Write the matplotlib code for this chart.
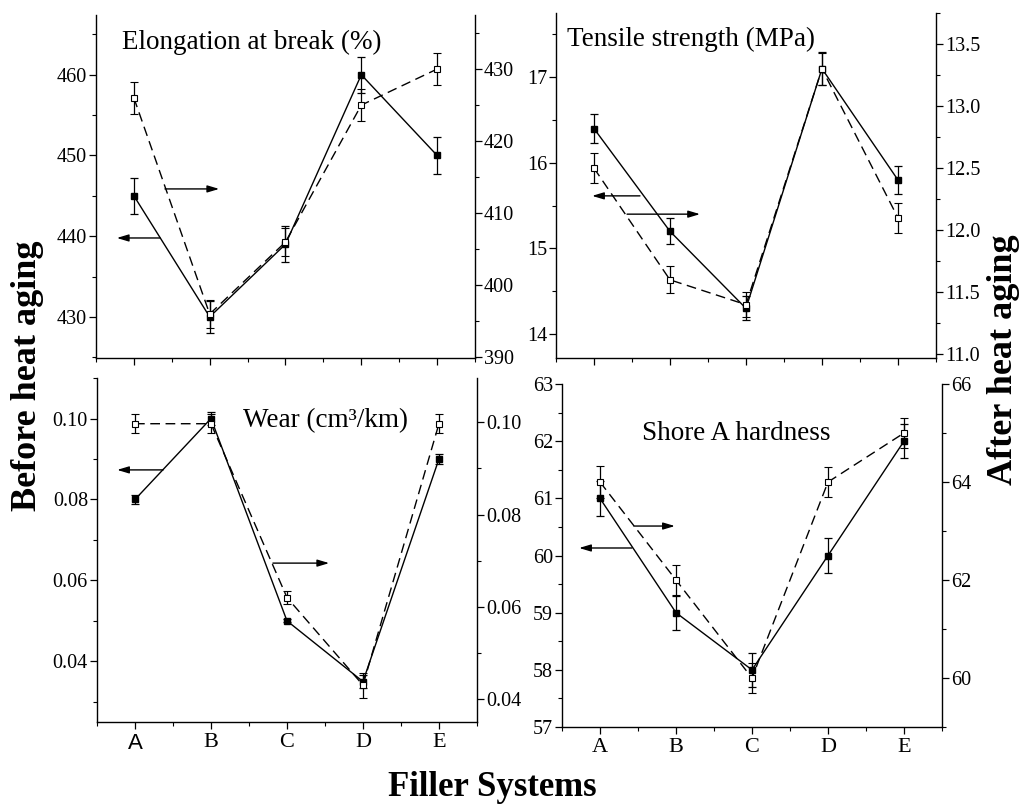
import matplotlib
matplotlib.use("Agg")
import matplotlib.pyplot as plt
from matplotlib.ticker import MultipleLocator, FormatStrFormatter

plt.rcParams["font.family"] = ["Liberation Serif", "DejaVu Serif"]

fillers = ["A", "B", "C", "D", "E"]

elong_before = [445, 430, 439, 460, 450]
elong_before_err = [2.2, 2.0, 2.2, 2.2, 2.3]
elong_after = [426, 396, 406, 425, 430]
elong_after_err = [2.2, 2.0, 2.0, 2.2, 2.2]

tensile_before = [16.4, 15.2, 14.3, 17.1, 15.8]
tensile_before_err = [0.17, 0.15, 0.14, 0.19, 0.16]
tensile_after = [12.5, 11.6, 11.4, 13.3, 12.1]
tensile_after_err = [0.12, 0.11, 0.10, 0.13, 0.12]

wear_before = [0.080, 0.100, 0.050, 0.035, 0.090]
wear_before_err = [0.0012, 0.0015, 0.0004, 0.0015, 0.0012]
wear_after = [0.0997, 0.0997, 0.062, 0.043, 0.0997]
wear_after_err = [0.002, 0.002, 0.0015, 0.0027, 0.002]

hard_before = [61, 59, 58, 60, 62]
hard_before_err = [0.3, 0.3, 0.3, 0.3, 0.3]
hard_after = [64, 62, 60, 64, 65]
hard_after_err = [0.32, 0.3, 0.3, 0.3, 0.3]

TICK_FS = 14.5


def style_axis(ax, side):
    for s in ["top", "left", "right", "bottom"]:
        ax.spines[s].set_visible(False)
    ax.spines[side].set_visible(True)
    ax.spines[side].set_linewidth(1.0)
    ax.tick_params(axis="y", which="major", direction="out", length=5, width=0.9,
                   labelsize=TICK_FS, pad=1.5)
    ax.tick_params(axis="y", which="minor", direction="out", length=3, width=0.8)


def draw_panel(rect, before, before_err, after, after_err, lims, ticks, fmts,
               title, title_pos, arrows, show_x=False, sans_first=False):
    ax = fig.add_axes(rect)
    x = list(range(1, len(fillers) + 1))
    ax.errorbar(x, before, yerr=before_err, color="k", lw=1.0, marker="s", ms=5,
                mfc="k", mec="k", capsize=3, elinewidth=0.9, capthick=0.9, zorder=3)
    ax.set_xlim(0.5, 5.5)
    ax.set_ylim(*lims[0])
    ax.yaxis.set_major_locator(MultipleLocator(ticks[0][0]))
    ax.yaxis.set_minor_locator(MultipleLocator(ticks[0][1]))
    ax.yaxis.set_major_formatter(FormatStrFormatter(fmts[0]))
    style_axis(ax, "left")
    ax.spines["bottom"].set_visible(True)
    ax.spines["bottom"].set_linewidth(1.0)
    ax.set_xticks(x)
    ax.xaxis.set_minor_locator(MultipleLocator(0.5))
    ax.tick_params(axis="x", which="major", direction="out", length=5, width=0.9,
                   labelsize=16, pad=3)
    ax.tick_params(axis="x", which="minor", direction="out", length=3, width=0.8)
    if show_x:
        ax.set_xticklabels(fillers)
        if sans_first:
            ax.get_xticklabels()[0].set_fontfamily("Liberation Sans")
    else:
        ax.set_xticklabels([])

    ax2 = ax.twinx()
    ax2.errorbar(x, after, yerr=after_err, color="k", lw=1.0, ls=(0, (7, 4)), marker="s",
                 ms=5, mfc="white", mec="k", mew=0.8, capsize=3, elinewidth=0.9,
                 capthick=0.9, zorder=3)
    ax2.set_ylim(*lims[1])
    ax2.yaxis.set_major_locator(MultipleLocator(ticks[1][0]))
    ax2.yaxis.set_minor_locator(MultipleLocator(ticks[1][1]))
    ax2.yaxis.set_major_formatter(FormatStrFormatter(fmts[1]))
    style_axis(ax2, "right")

    ax.text(title_pos[0], title_pos[1], title, transform=ax.transAxes,
            ha="left", va="center", fontsize=19.5)
    for start, end in arrows:
        ax.annotate("", xy=end, xytext=start, xycoords="axes fraction",
                    textcoords="axes fraction",
                    arrowprops=dict(arrowstyle="-|>,head_length=0.5,head_width=0.15",
                                    mutation_scale=14, lw=1.0, color="k",
                                    shrinkA=0, shrinkB=0))
    return ax, ax2


fig = plt.figure(figsize=(10.2, 8.08), dpi=100)

draw_panel([0.0941, 0.5569, 0.3716, 0.4245], elong_before, elong_before_err,
           elong_after, elong_after_err,
           [(424.9, 467.4), (389.9, 437.5)], [(10, 5), (10, 5)], ["%d", "%d"],
           "Elongation at break (%)", (0.069, 0.921),
           [((0.182, 0.493), (0.325, 0.493)), ((0.169, 0.350), (0.055, 0.350))])

draw_panel([0.5451, 0.5569, 0.3725, 0.4270], tensile_before, tensile_before_err,
           tensile_after, tensile_after_err,
           [(13.72, 17.75), (10.97, 13.75)], [(1, 0.5), (0.5, 0.25)], ["%d", "%.1f"],
           "Tensile strength (MPa)", (0.029, 0.922),
           [((0.221, 0.470), (0.095, 0.470)), ((0.187, 0.417), (0.379, 0.417))])

draw_panel([0.0951, 0.1064, 0.3725, 0.4257], wear_before, wear_before_err,
           wear_after, wear_after_err,
           [(0.025, 0.110), (0.035, 0.1096)], [(0.02, 0.01), (0.02, 0.01)],
           ["%.2f", "%.2f"],
           "Wear (cm³/km)", (0.384, 0.875),
           [((0.174, 0.733), (0.053, 0.733)), ((0.463, 0.462), (0.611, 0.462))],
           show_x=True, sans_first=True)

draw_panel([0.5510, 0.1002, 0.3725, 0.4245], hard_before, hard_before_err,
           hard_after, hard_after_err,
           [(57, 63), (59, 66)], [(1, 0.5), (2, 1)], ["%d", "%d"],
           "Shore A hardness", (0.211, 0.857),
           [((0.189, 0.586), (0.297, 0.586)), ((0.184, 0.522), (0.045, 0.522))],
           show_x=True)

fig.text(0.027, 0.535, "Before heat aging", rotation=90, ha="center", va="center",
         fontsize=26, fontweight="bold")
fig.text(0.984, 0.555, "After heat aging", rotation=90, ha="center", va="center",
         fontsize=26, fontweight="bold")
fig.text(0.483, 0.025, "Filler Systems", ha="center", va="center",
         fontsize=25, fontweight="bold")

fig.savefig("out.png", dpi=100)
